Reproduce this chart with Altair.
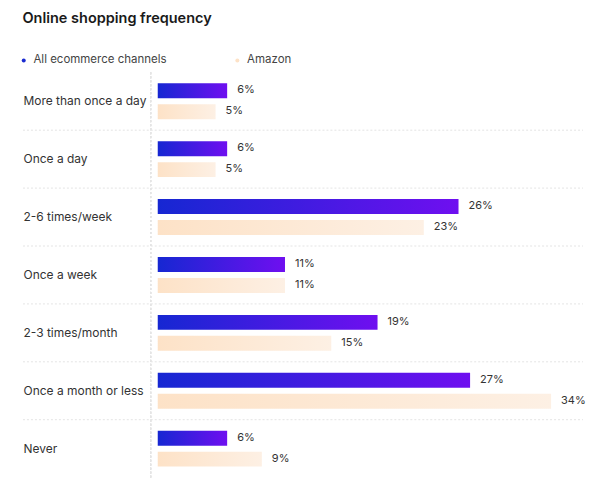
import altair as alt
import pandas as pd

categories = [
    "More than once a day",
    "Once a day",
    "2-6 times/week",
    "Once a week",
    "2-3 times/month",
    "Once a month or less",
    "Never",
]
all_channels = [6, 6, 26, 11, 19, 27, 6]
amazon = [5, 5, 23, 11, 15, 34, 9]
series_names = ["All ecommerce channels", "Amazon"]

FONT = "Inter"
STEP = 58

rows = []
for cat, a, b in zip(categories, all_channels, amazon):
    rows.append({"category": cat, "series": series_names[0], "value": a, "label": f"{a}%"})
    rows.append({"category": cat, "series": series_names[1], "value": b, "label": f"{b}%"})
df = pd.DataFrame(rows)

# separators between rows (skip the first band)
sep_df = pd.DataFrame({"category": categories[1:]})

y_enc = alt.Y(
    "category:N",
    sort=categories,
    scale=alt.Scale(domain=categories, paddingInner=0, paddingOuter=0),
    axis=alt.Axis(
        title=None,
        domain=False,
        ticks=False,
        grid=False,
        labelAlign="left",
        labelPadding=135,
        labelFont=FONT,
        labelFontSize=12,
        labelColor="#333",
        labelLimit=140,
    ),
)
x_scale = alt.Scale(domain=[0, 34], nice=False)

blue_grad = alt.Gradient(
    gradient="linear",
    stops=[alt.GradientStop(color="#1627d2", offset=0), alt.GradientStop(color="#6f0ff0", offset=1)],
    x1=0, x2=1, y1=0, y2=0,
)
peach_grad = alt.Gradient(
    gradient="linear",
    stops=[alt.GradientStop(color="#fde2c7", offset=0), alt.GradientStop(color="#fdf0e4", offset=1)],
    x1=0, x2=1, y1=0, y2=0,
)

base = alt.Chart(df)

blue_bars = base.transform_filter(alt.datum.series == series_names[0]).mark_bar(
    height=15, yOffset=-10.5, color=blue_grad
).encode(x=alt.X("value:Q", scale=x_scale, axis=None), y=y_enc)

peach_bars = base.transform_filter(alt.datum.series == series_names[1]).mark_bar(
    height=15, yOffset=10.5, color=peach_grad
).encode(x=alt.X("value:Q", scale=x_scale, axis=None), y=y_enc)

blue_text = base.transform_filter(alt.datum.series == series_names[0]).mark_text(
    align="left", baseline="middle", dx=10, yOffset=-11, font=FONT, fontSize=11, color="#333"
).encode(x=alt.X("value:Q", scale=x_scale), y=y_enc, text="label:N")

peach_text = base.transform_filter(alt.datum.series == series_names[1]).mark_text(
    align="left", baseline="middle", dx=10, yOffset=10, font=FONT, fontSize=11, color="#333"
).encode(x=alt.X("value:Q", scale=x_scale), y=y_enc, text="label:N")

separators = alt.Chart(sep_df).mark_rule(
    color="#e4e4e4", strokeDash=[2, 2], strokeWidth=1
).encode(
    y=alt.Y("category:N", sort=categories, bandPosition=0),
    x=alt.value(-135),
    x2=alt.value(426),
)

vline = alt.Chart(sep_df).mark_rule(
    color="#e4e4e4", strokeDash=[2, 2], strokeWidth=1
).encode(x=alt.value(-7), y=alt.value(0), y2=alt.value(STEP * 7))

# invisible layer that carries the legend
legend_layer = base.mark_point(filled=True, opacity=0).encode(
    x=alt.X("value:Q", scale=x_scale),
    y=y_enc,
    color=alt.Color(
        "series:N",
        scale=alt.Scale(domain=series_names, range=["#1a2bd0", "#fde2c7"]),
        legend=alt.Legend(
            title=None,
            orient="none",
            legendX=-135,
            legendY=-18,
            padding=0,
            direction="horizontal",
            symbolType="circle",
            symbolSize=16,
            symbolOpacity=1,
            symbolOffset=-5,
            labelFont=FONT,
            labelFontSize=11.5,
            labelColor="#444",
            labelOffset=4,
            columnPadding=68,
        ),
    ),
)

chart = alt.layer(
    separators, vline, blue_bars, peach_bars, blue_text, peach_text, legend_layer
).properties(
    width=394,
    height=STEP * 7,
    padding={"left": 14, "top": 2, "right": 5, "bottom": 0},
    title=alt.TitleParams(
        text="Online shopping frequency",
        anchor="start",
        frame="bounds",
        font=FONT,
        fontSize=14.5,
        fontWeight=600,
        color="#1a1a1a",
        offset=28,
    ),
).configure_view(stroke=None)

chart.save("out.html", embed_options={"renderer": "svg", "actions": False})
